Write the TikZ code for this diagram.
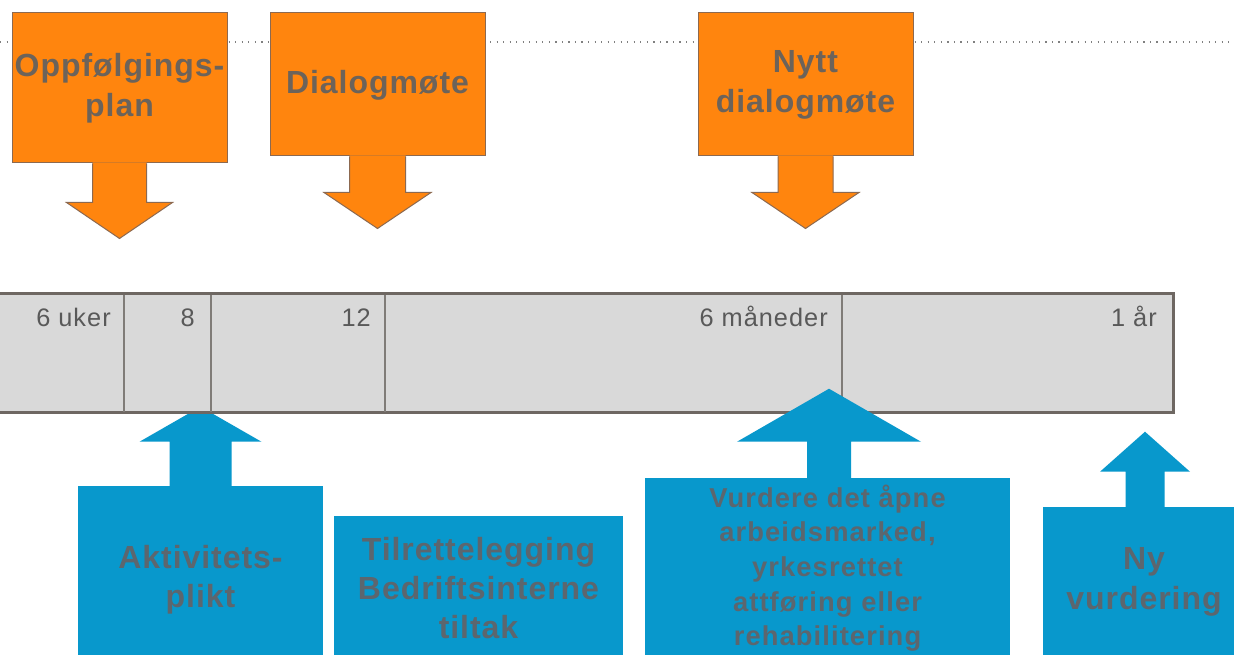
\documentclass[tikz,border=0pt]{standalone}
\usepackage{fontspec}
\setmainfont{Liberation Sans}
\newfontfamily\callfont[LetterSpace=3]{Liberation Sans}
\newfontfamily\widefont[LetterSpace=4]{Liberation Sans}
\newfontfamily\lblfont[LetterSpace=4]{Liberation Sans}
\usetikzlibrary{calc}
\definecolor{orng}{RGB}{255,133,14}
\definecolor{oline}{RGB}{140,105,80}
\definecolor{blu}{RGB}{8,152,204}
\definecolor{otxt}{RGB}{108,99,90}
\definecolor{btxt}{RGB}{92,102,110}
\definecolor{barfill}{RGB}{217,217,217}
\definecolor{barline}{RGB}{110,103,98}
\definecolor{divline}{RGB}{128,124,120}
\definecolor{lbltxt}{RGB}{89,89,89}
\definecolor{dotline}{RGB}{128,128,128}
\newcommand\dnarrow[5]{%
  \fill[orng] ($(#1.south)+(-#2,-1)$) -- ++(0,#3+1) -- ++(#2-#4,0) -- ++(#4,#5) -- ++(#4,-#5) -- ++(#2-#4,0) -- ++(0,-#3-1) -- cycle;
  \draw[oline, line width=0.75pt, line join=miter] ($(#1.south)+(-#2,0)$) -- ++(0,#3) -- ++(#2-#4,0) -- ++(#4,#5) -- ++(#4,-#5) -- ++(#2-#4,0) -- ++(0,-#3);}
\newcommand\uparrowb[6]{%
  \fill[blu] ($(#1.north)+(#2-#3,1)$) -- ++(0,-#4-1) -- ++(#3-#5,0) -- ++(#5,-#6) -- ++(#5,#6) -- ++(#3-#5,0) -- ++(0,#4+1) -- cycle;}
\begin{document}
\begin{tikzpicture}[x=0.75pt,y=-0.75pt,
  obox/.style={fill=orng, draw=oline, line width=0.75pt, minimum width=161.25pt, inner sep=0pt,
    align=center, text=otxt, font=\callfont\bfseries\fontsize{24}{30}\selectfont},
  bbox/.style={fill=blu, draw=none, inner sep=0pt},
  btext/.style={align=center, text=btxt, inner sep=0pt},
  bigtxt/.style={font=\callfont\bfseries\fontsize{24}{29.5}\selectfont},
  smalltxt/.style={font=\widefont\bfseries\fontsize{20.5}{26}\selectfont},
  barbox/.style={fill=barfill, draw=barline, line width=2.25pt, inner sep=0pt},
  divider/.style={draw=divline, line width=1.1pt},
  lbl/.style={text=lbltxt, inner sep=0pt, font=\lblfont\fontsize{19}{22}\selectfont},
  dotted line/.style={draw=dotline, line width=1.8pt, dash pattern=on 0.9pt off 4pt}]
\useasboundingbox (0,0) rectangle (1234,655);
\clip (0,0) rectangle (1234,655);
\fill[white] (0,0) rectangle (1234,655);

% dotted guide line
\coordinate (dl) at (0,42);
\coordinate (dr) at (1234,42);
\draw[dotted line] (dl) -- (dr);

% orange callouts
\node[obox, minimum height=112.5pt] (o1) at (119.5,88) {Oppfølgings-\\plan};
\dnarrow{o1}{27}{39}{53}{36}
\node[obox, minimum height=107.25pt, text depth=4pt] (o2) at (377.5,84.5) {Dialogmøte};
\dnarrow{o2}{28}{36}{53.5}{36}
\node[obox, minimum height=107.25pt] (o3) at (805.5,84.5) {Nytt\\dialogmøte};
\dnarrow{o3}{27.5}{36}{53.5}{36}

% blue callouts (behind the bar)
\node[bbox, minimum width=183.75pt, minimum height=139.5pt] (b1) at (200.5,579) {};
\uparrowb{b1}{0}{31}{44}{61}{35}
\node[btext, bigtxt] (b1t) at (200.5,580) {Aktivitets-\\plikt};

\node[bbox, minimum width=216.75pt, minimum height=108pt] (b2) at (478.5,588) {};
\node[btext, bigtxt] (b2t) at (478.5,588) {Tilrettelegging\\Bedriftsinterne\\tiltak};

\node[bbox, minimum width=153pt, minimum height=120pt] (b4) at (1145,587) {};
\uparrowb{b4}{0}{19.5}{35}{45}{40}
\node[btext, bigtxt] (b4t) at (1144,582) {Ny\\vurdering};

% timeline bar
\node[barbox, minimum width=887.25pt, minimum height=89.25pt] (bar) at (581.5,353.5) {};
\draw[divider] (124,295) -- (124,412);
\draw[divider] (211,295) -- (211,412);
\draw[divider] (385,295) -- (385,412);
\draw[divider] (842,295) -- (842,412);
\node[lbl, anchor=base east] (l1) at (111,327) {6 uker};
\node[lbl, anchor=base east] (l2) at (195,327) {8};
\node[lbl, anchor=base east] (l3) at (371,327) {12};
\node[lbl, anchor=base east] (l4) at (828,327) {6 måneder};
\node[lbl, anchor=base east] (l5) at (1157,327) {1 år};

% blue callout over the bar
\node[bbox, minimum width=273.75pt, minimum height=142.5pt] (b3) at (827.5,573) {};
\uparrowb{b3}{1.5}{22}{36}{92}{53}
\node[btext, smalltxt] (b3t) at (827.5,568) {Vurdere det åpne\\arbeidsmarked,\\yrkesrettet\\attføring eller\\rehabilitering};
\end{tikzpicture}
\end{document}
